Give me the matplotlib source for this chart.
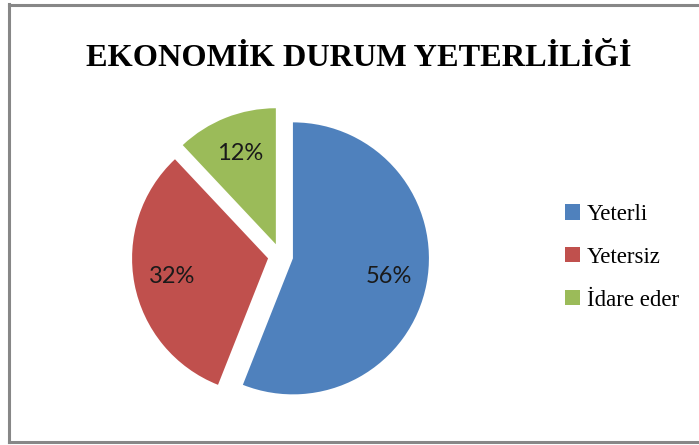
import matplotlib
matplotlib.use("Agg")
import matplotlib.pyplot as plt
from matplotlib.lines import Line2D

# veriler
labels = ['Yeterli', 'Yetersiz', 'İdare eder']
values = [56, 32, 12]
colors = ['#4F81BD', '#C0504D', '#9BBB59']
title = 'EKONOMİK DURUM YETERLİLİĞİ'

W, H = 699, 445
fig = plt.figure(figsize=(W / 100, H / 100), dpi=100)
fig.patch.set_facecolor('white')

# çerçeve (sol, üst, alt)
frame_col = '#878787'
fig.add_artist(Line2D([8.5 / W, 8.5 / W], [1 - 4 / H, 1 - 442 / H], transform=fig.transFigure,
                      color=frame_col, lw=2.2, solid_capstyle='projecting'))
fig.add_artist(Line2D([8.5 / W, 1], [1 - 4.5 / H, 1 - 4.5 / H], transform=fig.transFigure,
                      color=frame_col, lw=2.2))
fig.add_artist(Line2D([8.5 / W, 1], [1 - 442 / H, 1 - 442 / H], transform=fig.transFigure,
                      color=frame_col, lw=2.2))

# pasta grafiği: merkez (280.5, 256) px, yarıçap 136 px
r_px = 136
cx, cy = 280.5, 256
lim = 1.3
side = 2 * lim * r_px
ax = fig.add_axes([(cx - side / 2) / W, (H - cy - side / 2) / H, side / W, side / H])
wedges, texts, autotexts = ax.pie(values, colors=colors, startangle=90, counterclock=False,
                                  explode=[0.093] * 3, autopct='%1.0f%%', pctdistance=0.72,
                                  textprops={'fontsize': 17, 'family': 'Lato', 'color': '#1a1a1a'})
ax.set_xlim(-lim, lim)
ax.set_ylim(-lim, lim)
ax.set_aspect('equal')
ax.axis('off')

fig.text(359 / W, 1 - 59 / H, title, ha='center', va='center', fontsize=23.3,
         fontweight='bold', family='Liberation Serif')

leg = fig.legend(wedges, labels, loc='upper left', bbox_to_anchor=(565 / W, 1 - 204 / H),
                 frameon=False, prop={'family': 'Liberation Serif', 'size': 16.5},
                 handlelength=0.66, handleheight=0.66, handletextpad=0.3, labelspacing=0.95,
                 borderaxespad=0, borderpad=0)

fig.savefig('out.png', dpi=100)
